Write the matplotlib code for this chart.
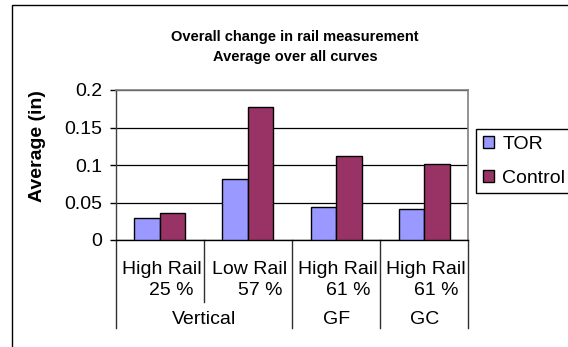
import matplotlib
matplotlib.use('Agg')
import matplotlib.pyplot as plt
from matplotlib.patches import Rectangle
import numpy as np

plt.rcParams['font.family'] = ['Liberation Sans', 'DejaVu Sans']

# Chart data
rail_labels = ['High Rail', 'Low Rail', 'High Rail', 'High Rail']
pct_labels = ['25 %', '57 %', '61 %', '61 %']
groups = ['Vertical', 'Vertical', 'GF', 'GC']
tor = [0.029, 0.082, 0.044, 0.042]
control = [0.036, 0.178, 0.112, 0.102]
y_ticks = [0, 0.05, 0.1, 0.15, 0.2]
y_tick_labels = ['0', '0.05', '0.1', '0.15', '0.2']

W, H = 568, 347
fig = plt.figure(figsize=(W / 100, H / 100), dpi=100)

# outer chart border (runs off the right/bottom edges)
fig.patches.append(Rectangle((11.5 / W, -0.1), 1.2, 1 - 4.7 / H + 0.1,
                             transform=fig.transFigure, fill=False,
                             edgecolor='black', lw=1.0))

ax = fig.add_axes([115.7 / W, (H - 240) / H, 352.6 / W, 150 / H])

x = np.arange(len(tor))
w = 0.29
b1 = ax.bar(x - w / 2, tor, w, color='#9999FF', edgecolor='black', lw=1.0, label='TOR', zorder=3)
b2 = ax.bar(x + w / 2, control, w, color='#993366', edgecolor='black', lw=1.0, label='Control', zorder=3)

ax.set_xlim(-0.5, len(tor) - 0.5)
ax.set_ylim(0, 0.2)
ax.set_yticks(y_ticks)
ax.set_yticklabels(y_tick_labels, fontsize=14)
ax.set_xticks([])
ax.tick_params(axis='y', length=4.5, width=1, pad=5, color='black')
ax.yaxis.grid(True, color='black', lw=0.9, zorder=0)
ax.set_axisbelow(True)

for s in ['top', 'right']:
    ax.spines[s].set_color('#808080')
    ax.spines[s].set_linewidth(1.2)
ax.spines['left'].set_color('#404040')
ax.spines['bottom'].set_color('black')
ax.spines['left'].set_linewidth(1.0)
ax.spines['bottom'].set_linewidth(1.0)

# category labels under the axis
xt = ax.get_xaxis_transform()
for i in range(len(tor)):
    ax.annotate(rail_labels[i], xy=(i, 0), xycoords=xt, xytext=(1.5, -21.6),
                textcoords='offset points', ha='center', va='center', fontsize=14)
    ax.annotate(pct_labels[i], xy=(i, 0), xycoords=xt, xytext=(8.6, -36.5),
                textcoords='offset points', ha='center', va='center', fontsize=14)

# group labels and separators
seen = []
for g in groups:
    if g not in seen:
        seen.append(g)
for g in seen:
    idx = [i for i, gg in enumerate(groups) if gg == g]
    ax.annotate(g, xy=(np.mean(idx), 0), xycoords=xt, xytext=(0, -57.1),
                textcoords='offset points', ha='center', va='center', fontsize=14)

for i in range(len(tor) + 1):
    pos = i - 0.5
    outer = i == 0 or i == len(tor) or groups[i] != groups[i - 1]
    depth = -88 / 150 if outer else -62 / 150
    ax.plot([pos, pos], [0, depth], transform=xt, color='#303030', lw=1.0, clip_on=False)

fig.text(295 / W, 1 - 37 / H, 'Overall change in rail measurement',
         ha='center', va='center', fontsize=10.5, fontweight='bold')
fig.text(295 / W, 1 - 57 / H, 'Average over all curves',
         ha='center', va='center', fontsize=10.5, fontweight='bold')
fig.text(38 / W, 1 - 146 / H, 'Average (in)', rotation=90,
         ha='center', va='center', fontsize=14, fontweight='bold')

leg = fig.legend(handles=[b1, b2], loc='upper left',
                 bbox_to_anchor=(476 / W, 1 - 129.3 / H), bbox_transform=fig.transFigure,
                 borderaxespad=0, fancybox=False, edgecolor='black', framealpha=1,
                 fontsize=14, handlelength=0.55, handleheight=0.55,
                 handletextpad=0.45, labelspacing=0.85, borderpad=0.35)
leg.get_frame().set_linewidth(1.0)

fig.savefig('out.png', dpi=100)
